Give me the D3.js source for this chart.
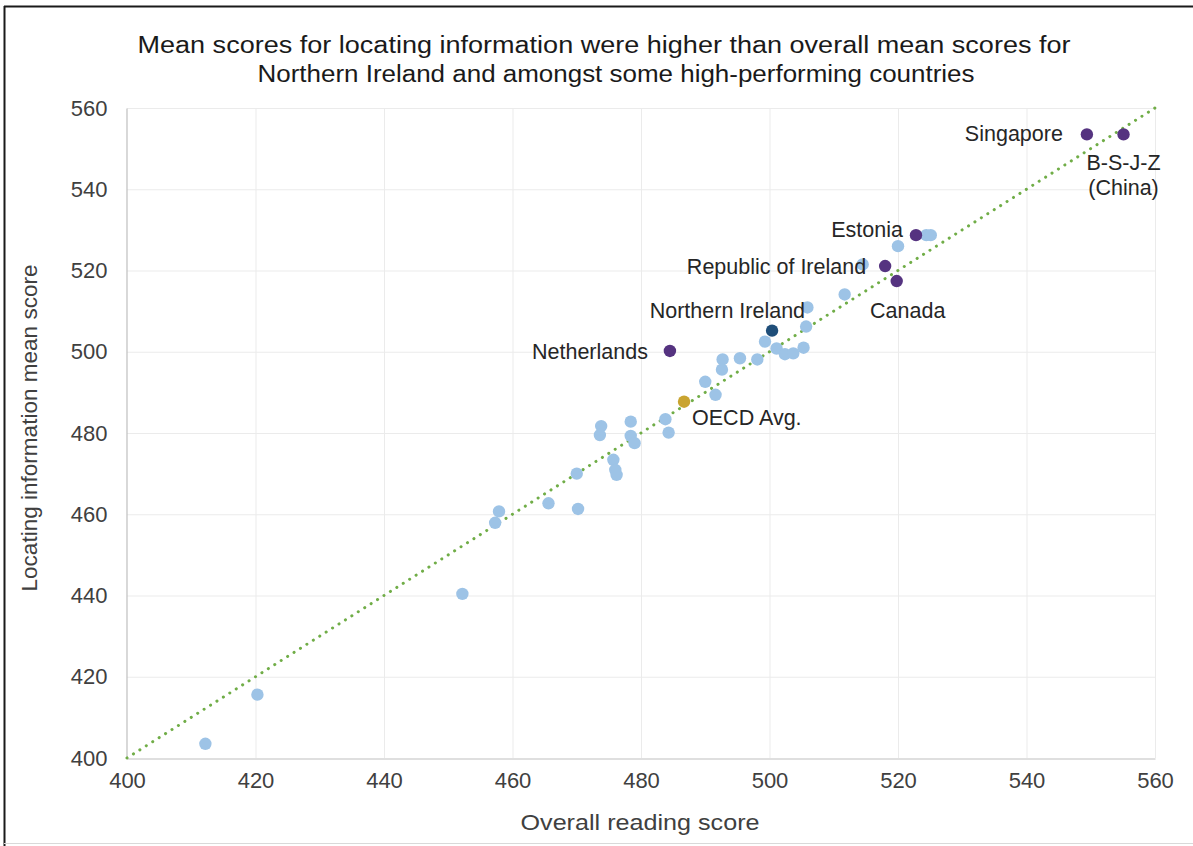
<!DOCTYPE html>
<html><head><meta charset="utf-8">
<script src="https://cdn.jsdelivr.net/npm/d3@7/dist/d3.min.js"></script>
<style>body{margin:0;background:#fff;} svg{display:block;font-family:"Liberation Sans",Arial,sans-serif;}</style>
</head><body>
<script>
// ---- data ----
const titleLines = ["Mean scores for locating information were higher than overall mean scores for",
                    "Northern Ireland and amongst some high-performing countries"];
const xTicks = [400, 420, 440, 460, 480, 500, 520, 540, 560];
const yTicks = [400, 420, 440, 460, 480, 500, 520, 540, 560];
const xTitle = "Overall reading score";
const yTitle = "Locating information mean score";

// other countries: [overall, locating]
const otherOverall  = [412.2, 420.3, 452.2, 457.9, 457.3, 465.6, 470.0, 470.2, 473.8, 473.6, 478.4, 478.4, 479.0, 475.7, 476.0, 476.2,
                       483.8, 484.3, 490.0, 491.6, 492.7, 492.6, 495.4, 498.1, 499.3, 501.1, 502.4, 503.7, 505.3, 505.7, 505.9,
                       511.7, 520.0, 524.4, 525.1, 514.5];
const otherLocating = [403.5, 415.6, 440.4, 460.7, 457.9, 462.7, 470.0, 461.3, 481.7, 479.5, 482.8, 479.3, 477.5, 473.4, 470.9, 469.7,
                       483.4, 480.1, 492.6, 489.4, 498.1, 495.6, 498.4, 498.1, 502.5, 500.8, 499.4, 499.6, 501.0, 506.2, 510.9,
                       514.1, 526.0, 528.7, 528.7, 521.5];

const highNames     = ["Singapore", "B-S-J-Z (China)", "Estonia", "Republic of Ireland", "Canada", "Netherlands"];
const highOverall   = [549.4, 555.1, 522.8, 518.0, 519.8, 484.5];
const highLocating  = [553.5, 553.5, 528.7, 521.1, 517.4, 500.2];

const niName = "Northern Ireland";
const niOverall = 500.4, niLocating = 505.2;
const oecdName = "OECD Avg.";
const oecdOverall = 486.7, oecdLocating = 487.7;

// ---- layout ----
const W = 1193, H = 846;
const m = {left: 127, right: 38, top: 108, bottom: 88};
const svg = d3.select("body").append("svg").attr("width", W).attr("height", H);

// frame
svg.append("line").attr("x1",4.5).attr("x2",4.5).attr("y1",6).attr("y2",H).attr("stroke","#1a1a1a").attr("stroke-width",2);
svg.append("line").attr("x1",4).attr("x2",W).attr("y1",6.5).attr("y2",6.5).attr("stroke","#1a1a1a").attr("stroke-width",2);
svg.append("line").attr("x1",4).attr("x2",W).attr("y1",843.5).attr("y2",843.5).attr("stroke","#d9d9d9").attr("stroke-width",1);

const x = d3.scaleLinear().domain([400,560]).range([m.left, W - m.right]);
const y = d3.scaleLinear().domain([400,560]).range([H - m.bottom, m.top]);

// grid
const g = svg.append("g");
g.selectAll(".gx").data(xTicks.slice(1)).join("line")
  .attr("x1", d=>x(d)+0.5).attr("x2", d=>x(d)+0.5).attr("y1", y(560)).attr("y2", y(400))
  .attr("stroke","#ebebeb");
g.selectAll(".gy").data(yTicks.slice(1)).join("line")
  .attr("x1", x(400)).attr("x2", x(560)).attr("y1", d=>y(d)+0.5).attr("y2", d=>y(d)+0.5)
  .attr("stroke","#ebebeb");

// axes
const xAxis = d3.axisBottom(x).tickValues(xTicks).tickSize(0).tickPadding(14).tickFormat(d3.format("d"));
const yAxis = d3.axisLeft(y).tickValues(yTicks).tickSize(0).tickPadding(19).tickFormat(d3.format("d"));
const gx = svg.append("g").attr("transform", `translate(0,${y(400)+0.5})`).call(xAxis);
const gy = svg.append("g").attr("transform", `translate(${x(400)-0.5},0)`).call(yAxis);
[gx, gy].forEach(a => {
  a.select(".domain").attr("stroke","#bfbfbf").attr("stroke-width",1.2);
  a.selectAll("text").attr("fill","#404040").style("font-size","22px").style("font-family","Liberation Sans, Arial, sans-serif");
});

// trend line y = x
svg.append("line")
  .attr("x1", x(400)).attr("y1", y(400)).attr("x2", x(560)).attr("y2", y(560))
  .attr("stroke","#70AD47").attr("stroke-width",3).attr("stroke-dasharray","0.1 7.5").attr("stroke-linecap","round");

// points
const R = 6.2;
svg.append("g").selectAll("circle").data(otherOverall.map((v,i)=>[v, otherLocating[i]])).join("circle")
  .attr("cx", d=>x(d[0])).attr("cy", d=>y(d[1])).attr("r", R).attr("fill","#9DC3E6");
svg.append("g").selectAll("circle").data(highOverall.map((v,i)=>[v, highLocating[i]])).join("circle")
  .attr("cx", d=>x(d[0])).attr("cy", d=>y(d[1])).attr("r", R).attr("fill","#553380");
svg.append("circle").attr("cx", x(niOverall)).attr("cy", y(niLocating)).attr("r", R).attr("fill","#1F4E79");
svg.append("circle").attr("cx", x(oecdOverall)).attr("cy", y(oecdLocating)).attr("r", R).attr("fill","#C9A430");

// labels
const labelStyle = sel => sel.attr("fill","#262626").style("font-size","21.5px");
function label(lines, px, py, dx, dy, anchor){
  const t = svg.append("text").attr("x", px+dx).attr("y", py+dy).attr("text-anchor", anchor).call(labelStyle);
  lines.forEach((l,i)=> t.append("tspan").attr("x", px+dx).attr("dy", i===0?0:25).text(l));
}
label([highNames[0]], x(highOverall[0]), y(highLocating[0]), -24, 7, "end");
label(["B-S-J-Z", "(China)"], x(highOverall[1]), y(highLocating[1]), 0, 36, "middle");
label([highNames[2]], x(highOverall[2]), y(highLocating[2]), -13, 2, "end");
label([highNames[3]], x(highOverall[3]), y(highLocating[3]), -19, 8, "end");
label([highNames[4]], x(highOverall[4]), y(highLocating[4]), 11, 37, "middle");
label([highNames[5]], x(highOverall[5]), y(highLocating[5]), -22, 8, "end");
label([niName], x(niOverall), y(niLocating), 33, -13, "end");
label([oecdName], x(oecdOverall), y(oecdLocating), 8, 23, "start");

// titles
const titleLens = [933, 717];
const tt = svg.append("text").attr("text-anchor","middle").attr("fill","#1a1a1a").style("font-size","23px");
titleLines.forEach((l,i)=> tt.append("tspan").attr("x", 604 - (i? 1:0) * (604 - 616)).attr("y", 53 + i*29)
  .attr("textLength", titleLens[i]).attr("lengthAdjust","spacingAndGlyphs").text(l));
svg.append("text").attr("x", 640).attr("y", 830).attr("text-anchor","middle")
  .attr("textLength", 239).attr("lengthAdjust","spacingAndGlyphs")
  .attr("fill","#404040").style("font-size","22px").text(xTitle);
svg.append("text").attr("transform", `translate(37,428) rotate(-90)`).attr("text-anchor","middle")
  .attr("textLength", 327).attr("lengthAdjust","spacingAndGlyphs")
  .attr("fill","#404040").style("font-size","22px").text(yTitle);
</script>
</body></html>
